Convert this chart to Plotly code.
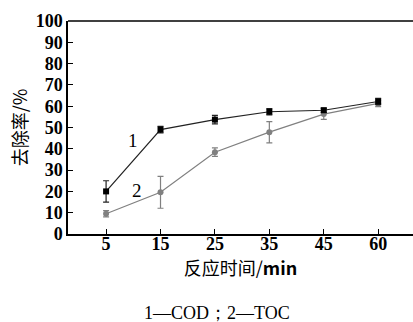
import plotly.graph_objects as go

times = ["5", "15", "25", "35", "45", "60"]
cod = [20, 49, 53.7, 57.4, 58.1, 62.2]
cod_err = [5, 1.5, 2, 1.5, 1, 1.5]
toc = [9.5, 19.6, 38.4, 47.8, 56.3, 61.3]
toc_err = [1.5, 7.5, 2, 5, 2.5, 1.5]
yticks = [0, 10, 20, 30, 40, 50, 60, 70, 80, 90, 100]

xi = list(range(len(times)))
serif = "Liberation Serif, Times New Roman, serif"

fig = go.Figure()
fig.add_trace(go.Scatter(
    x=xi, y=toc, mode="lines+markers",
    line=dict(color="#808080", width=1.2),
    marker=dict(symbol="circle", size=6, color="#808080"),
    error_y=dict(type="data", array=toc_err, color="#808080", thickness=1.2, width=3),
    showlegend=False))
fig.add_trace(go.Scatter(
    x=xi, y=cod, mode="lines+markers",
    line=dict(color="#222222", width=1.2),
    marker=dict(symbol="square", size=6, color="#000000"),
    error_y=dict(type="data", array=cod_err, color="#222222", thickness=1.2, width=3),
    showlegend=False))

fig.add_annotation(x=0.5, y=43.7, text="1", showarrow=False,
                   font=dict(family=serif, size=19, color="black"))
fig.add_annotation(x=0.57, y=20.2, text="2", showarrow=False,
                   font=dict(family=serif, size=19, color="black"))
fig.add_annotation(xref="paper", yref="paper", x=(217 - 68) / 345, y=-(313 - 234) / 213,
                   xanchor="center", yanchor="middle",
                   text="1—COD；2—TOC", showarrow=False,
                   font=dict(family=serif, size=18, color="black"))

fig.add_shape(type="line", xref="paper", yref="paper", x0=0, x1=1, y0=1, y1=1,
              line=dict(color="black", width=1.5))

fig.update_layout(
    width=413, height=322,
    margin=dict(l=68, r=0, t=21, b=88),
    paper_bgcolor="white", plot_bgcolor="white",
    font=dict(family=serif, color="black"),
    xaxis=dict(
        range=[-0.7, 5.64], tickmode="array", tickvals=xi, ticktext=times,
        ticks="inside", ticklen=5, tickcolor="black", tickwidth=1,
        showline=True, linecolor="black", linewidth=1.5,
        showgrid=False, zeroline=False, automargin=False,
        ticklabelstandoff=-7,
        tickfont=dict(family=serif, size=18, color="black", weight="bold"),
        title=dict(text="反应时间/<b>min</b>", standoff=0,
                   font=dict(family="Noto Sans CJK SC, " + serif, size=18, color="black")),
    ),
    yaxis=dict(
        range=[0, 100], tickmode="array", tickvals=yticks,
        ticks="inside", ticklen=5, tickcolor="black", tickwidth=1,
        showline=True, linecolor="black", linewidth=1.5,
        showgrid=False, zeroline=False, automargin=False,
        tickfont=dict(family=serif, size=18, color="black", weight="bold"),
        title=dict(text="去除率/%", standoff=3,
                   font=dict(family="Noto Sans CJK SC, " + serif, size=18, color="black")),
    ),
)

fig.write_html("out.html", config={"displayModeBar": False},
               post_script="document.body.style.margin='0';")
